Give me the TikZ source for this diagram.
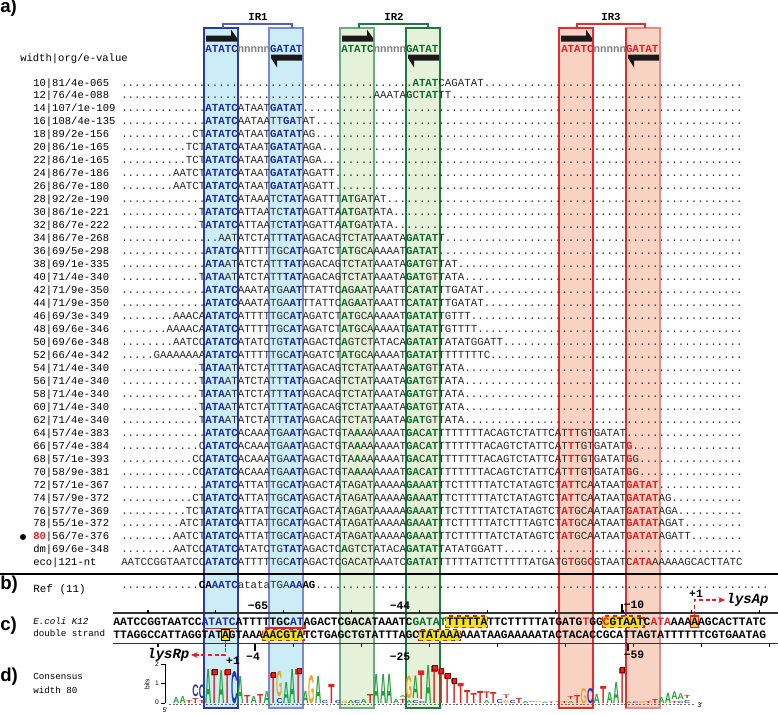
\documentclass[tikz,border=0pt]{standalone}
\usepackage{fontspec}
\setmainfont{Liberation Serif}
\newfontfamily\monof{Liberation Mono}
\newfontfamily\sansf{Liberation Sans}
\usetikzlibrary{arrows.meta}
\ExplSyntaxOn
\cs_new:Npn \Dn #1 {\prg_replicate:nn {#1} {.}}
\ExplSyntaxOff
\definecolor{sqblue}{HTML}{1C2A9E}
\definecolor{sqgreen}{HTML}{0E6B2E}
\definecolor{sqred}{HTML}{EC1C24}
\definecolor{ink}{HTML}{2A2A2A}
\definecolor{fillA}{HTML}{CDEDF6}
\definecolor{fillB}{HTML}{E5F1D9}
\definecolor{fillC}{HTML}{F8D2C2}
\definecolor{edgeAL}{HTML}{2B3AA8}
\definecolor{edgeAR}{HTML}{7F89CB}
\definecolor{edgeBL}{HTML}{6DAB84}
\definecolor{edgeBR}{HTML}{1E7A3E}
\definecolor{edgeCL}{HTML}{E52B2B}
\definecolor{edgeCR}{HTML}{F08787}
\definecolor{hlyellow}{HTML}{F2E21B}
\definecolor{lgreen}{HTML}{25A23A}
\definecolor{lblue}{HTML}{2336B8}
\definecolor{lorange}{HTML}{F2A424}
\definecolor{lred}{HTML}{E3231F}
\newcommand\Bl[1]{{\bfseries\color{sqblue}#1}}
\newcommand\Gr[1]{{\bfseries\color{sqgreen}#1}}
\newcommand\Rd[1]{{\bfseries\color{sqred}#1}}
\newcommand\RowA{\Dn{12}T\Bl{ATA}ATATCTATT\Bl{TAT}AGACAGTCTATAAATA\Gr{GAT}GTTATA\Dn{43}}
\newcommand\RowB{\Dn{13}\Bl{ATATC}AAATATGA\Bl{AT}TTATTC\Gr{A}G\Gr{A}ATAAATTC\Gr{ATAT}TTGATAT\Dn{40}}
\newcommand\RowC{\Dn{8}AATCC\Bl{ATATC}ATATCTG\Bl{TAT}AGACTC\Gr{A}GTCTATACA\Gr{GATAT}TATATGGATT\Dn{37}}
\newlength\pxu \setlength\pxu{0.75pt}
\newcommand\LG[5]{\node[inner sep=0pt,outer sep=0pt,anchor=south west] (lg-#1-#4) at ({121+(#1-1)*6.47+0.3},#4) {\raisebox{0pt}[\height][0pt]{\resizebox{4.7pt}{#5\pxu}{\sansf\bfseries\color{#3}#2}}};}
\tikzset{
 seq/.style={anchor=base west, inner sep=0pt, font=\monof\fontsize{8.09}{9}\selectfont, text=ink},
 lab/.style={anchor=base west, inner sep=0pt, font=\monof\fontsize{7.9}{9}\selectfont, text=black},
 slab/.style={anchor=base west, inner sep=0pt, font=\monof\fontsize{6.9}{8}\selectfont, text=black},
 strand/.style={anchor=base west, inner sep=0pt, font=\monof\bfseries\fontsize{8.5}{9}\selectfont, text=black},
 panel/.style={anchor=west, inner sep=0pt, font=\sansf\bfseries\fontsize{14}{16}\selectfont},
 irlab/.style={inner sep=0pt, font=\monof\bfseries\fontsize{8}{9}\selectfont},
 harp/.style={fill=black!90},
 ruler/.style={line width=1.3pt, black!80},
 poslab/.style={inner sep=0pt, font=\monof\bfseries\fontsize{8.5}{9}\selectfont},
 hlbox/.style={fill=hlyellow, draw=sqred, dashed, line width=0.9pt},
 tss/.style={sqred, densely dashed, line width=1pt, -{Stealth[length=5pt,width=4.5pt]}},
 promlab/.style={inner sep=1pt, font=\monof\bfseries\itshape\fontsize{10.5}{12}\selectfont},
 axlab/.style={inner sep=0pt, font=\sansf\fontsize{5}{5}\selectfont},
}
\begin{document}
\begin{tikzpicture}[x=0.75pt,y=-0.75pt]
\fill[white] (0,0) rectangle (778,714);
\useasboundingbox (0,0) rectangle (778,714);
% IR boxes
\draw[fill=fillA, draw=edgeAL, line width=1.1pt] (204,28) rectangle (238,708);
\draw[fill=fillA, draw=edgeAR, line width=1.1pt] (269,28) rectangle (303,708);
\draw[fill=fillB, draw=edgeBL, line width=1.1pt] (340,28) rectangle (374,708);
\draw[fill=fillB, draw=edgeBR, line width=1.1pt] (406,28) rectangle (440,708);
\draw[fill=fillC, draw=edgeCL, line width=1.1pt] (559,28) rectangle (593,708);
\draw[fill=fillC, draw=edgeCR, line width=1.1pt] (626,28) rectangle (660,708);
\draw[edgeCL, line width=1.1pt] (626,28) -- (626,708);
% brackets
\draw[edgeAL!80, line width=0.9pt] (223,28) -- (223,24) -- (292,24) -- (292,28);
\draw[edgeBR, line width=0.9pt] (359,28) -- (359,24) -- (428,24) -- (428,28);
\draw[edgeCL, line width=0.9pt] (577,28) -- (577,24) -- (645,24) -- (645,28);
\node[irlab] (ir1) at (258,17) {IR1};
\node[irlab] (ir2) at (394,17) {IR2};
\node[irlab] (ir3) at (611,17) {IR3};
% harpoons
\foreach \X/\Y in {204/269, 340/406, 559/626}{
 \fill[harp] ({\X+2},41.5) -- ({\X+33},41.5) -- ({\X+33},38) -- ({\X+27},29.5) -- ({\X+27},35.5) -- ({\X+2},35.5) -- cycle;
 \fill[harp] ({\Y+33},54.5) -- ({\Y+2},54.5) -- ({\Y+2},58) -- ({\Y+8},67.5) -- ({\Y+8},60.5) -- ({\Y+33},60.5) -- cycle;
}
\node[seq, font=\monof\bfseries\fontsize{8.09}{9}\selectfont] (ir1t) at (205.1,52) {\textcolor{sqblue}{ATATC}\textcolor{black!50}{nnnnn}\textcolor{sqblue}{GATAT}};
\node[seq, font=\monof\bfseries\fontsize{8.09}{9}\selectfont] (ir2t) at (341,52) {\textcolor{sqgreen}{ATATC}\textcolor{black!50}{nnnnn}\textcolor{sqgreen}{GATAT}};
\node[seq, font=\monof\bfseries\fontsize{8.09}{9}\selectfont] (ir3t) at (561,52) {\textcolor{sqred}{ATATC}\textcolor{black!50}{nnnnn}\textcolor{sqred}{GATAT}};
% panel labels
\node[panel] (pa) at (0,8) {a)};
\node[panel] (pb) at (0,585) {b)};
\node[panel] (pc) at (0,626) {c)};
\node[panel] (pd) at (0,677) {d)};
\node[lab] (hdr) at (20,61) {width|org/e-value};
% row labels
\node[lab] (l0) at (33,{86+12.97*0}) {10|81/4e-065};
\node[lab] (l1) at (33,{86+12.97*1}) {12|76/4e-088};
\node[lab] (l2) at (33,{86+12.97*2}) {14|107/1e-109};
\node[lab] (l3) at (33,{86+12.97*3}) {16|108/4e-135};
\node[lab] (l4) at (33,{86+12.97*4}) {18|89/2e-156};
\node[lab] (l5) at (33,{86+12.97*5}) {20|86/1e-165};
\node[lab] (l6) at (33,{86+12.97*6}) {22|86/1e-165};
\node[lab] (l7) at (33,{86+12.97*7}) {24|86/7e-186};
\node[lab] (l8) at (33,{86+12.97*8}) {26|86/7e-180};
\node[lab] (l9) at (33,{86+12.97*9}) {28|92/2e-190};
\node[lab] (l10) at (33,{86+12.97*10}) {30|86/1e-221};
\node[lab] (l11) at (33,{86+12.97*11}) {32|86/7e-222};
\node[lab] (l12) at (33,{86+12.97*12}) {34|86/7e-268};
\node[lab] (l13) at (33,{86+12.97*13}) {36|69/5e-298};
\node[lab] (l14) at (33,{86+12.97*14}) {38|69/1e-335};
\node[lab] (l15) at (33,{86+12.97*15}) {40|71/4e-340};
\node[lab] (l16) at (33,{86+12.97*16}) {42|71/9e-350};
\node[lab] (l17) at (33,{86+12.97*17}) {44|71/9e-350};
\node[lab] (l18) at (33,{86+12.97*18}) {46|69/3e-349};
\node[lab] (l19) at (33,{86+12.97*19}) {48|69/6e-346};
\node[lab] (l20) at (33,{86+12.97*20}) {50|69/6e-348};
\node[lab] (l21) at (33,{86+12.97*21}) {52|66/4e-342};
\node[lab] (l22) at (33,{86+12.97*22}) {54|71/4e-340};
\node[lab] (l23) at (33,{86+12.97*23}) {56|71/4e-340};
\node[lab] (l24) at (33,{86+12.97*24}) {58|71/4e-340};
\node[lab] (l25) at (33,{86+12.97*25}) {60|71/4e-340};
\node[lab] (l26) at (33,{86+12.97*26}) {62|71/4e-340};
\node[lab] (l27) at (33,{86+12.97*27}) {64|57/4e-383};
\node[lab] (l28) at (33,{86+12.97*28}) {66|57/4e-384};
\node[lab] (l29) at (33,{86+12.97*29}) {68|57/1e-393};
\node[lab] (l30) at (33,{86+12.97*30}) {70|58/9e-381};
\node[lab] (l31) at (33,{86+12.97*31}) {72|57/1e-367};
\node[lab] (l32) at (33,{86+12.97*32}) {74|57/9e-372};
\node[lab] (l33) at (33,{86+12.97*33}) {76|57/7e-369};
\node[lab] (l34) at (33,{86+12.97*34}) {78|55/1e-372};
\node[lab] (l35) at (33,{86+12.97*35}) {\textcolor{sqred}{\bfseries 80}|56/7e-376};
\node[lab] (l36) at (33,{86+12.97*36}) {dm|69/6e-348};
\node[lab] (l37) at (33,{86+12.97*37}) {eco|121-nt};
\node[circle, fill=black, inner sep=1.6pt] (bul) at (23,{83+12.97*35}) {};
% rows
\node[seq] (s0) at (121,{86+12.97*0}) {\Dn{45}\Gr{ATAT}CAGATAT\Dn{40}};
\node[seq] (s1) at (121,{86+12.97*1}) {\Dn{39}AAATA\Gr{G}C\Gr{TAT}TT\Dn{45}};
\node[seq] (s2) at (121,{86+12.97*2}) {\Dn{13}\Bl{ATATC}ATAAT\Bl{GATAT}\Dn{68}};
\node[seq] (s3) at (121,{86+12.97*3}) {\Dn{13}\Bl{ATATC}AATAATT\Bl{GA}TAT\Dn{66}};
\node[seq] (s4) at (121,{86+12.97*4}) {\Dn{11}CT\Bl{ATATC}ATAAT\Bl{GATAT}AG\Dn{66}};
\node[seq] (s5) at (121,{86+12.97*5}) {\Dn{10}TCT\Bl{ATATC}ATAAT\Bl{GATAT}AGA\Dn{65}};
\node[seq] (s6) at (121,{86+12.97*6}) {\Dn{10}TCT\Bl{ATATC}ATAAT\Bl{GATAT}AGA\Dn{65}};
\node[seq] (s7) at (121,{86+12.97*7}) {\Dn{8}AATCT\Bl{ATATC}ATAAT\Bl{GATAT}AGATT\Dn{63}};
\node[seq] (s8) at (121,{86+12.97*8}) {\Dn{8}AATCT\Bl{ATATC}ATAAT\Bl{GATAT}AGATT\Dn{63}};
\node[seq] (s9) at (121,{86+12.97*9}) {\Dn{13}\Bl{ATATC}ATAAATC\Bl{TAT}AGATTT\Gr{AT}GATAT\Dn{55}};
\node[seq] (s10) at (121,{86+12.97*10}) {\Dn{12}T\Bl{ATATC}ATTAATC\Bl{TAT}AGATTA\Gr{AT}GATATA\Dn{54}};
\node[seq] (s11) at (121,{86+12.97*11}) {\Dn{12}T\Bl{ATATC}ATTAATC\Bl{TAT}AGATTA\Gr{AT}GATATA\Dn{54}};
\node[seq] (s12) at (121,{86+12.97*12}) {\Dn{15}AATATCTATT\Bl{TAT}AGACAGTCTATAAATA\Gr{GATAT}T\Dn{46}};
\node[seq] (s13) at (121,{86+12.97*13}) {\Dn{13}\Bl{ATATC}ATTTTTGC\Bl{AT}AGATCT\Gr{AT}GCAAAAAT\Gr{GATAT}\Dn{47}};
\node[seq] (s14) at (121,{86+12.97*14}) {\Dn{13}\Bl{ATA}ATATCTATT\Bl{TAT}AGACAGTCTATAAATA\Gr{GAT}GTTAT\Dn{44}};
\node[seq] (s15) at (121,{86+12.97*15}) {\RowA};
\node[seq] (s16) at (121,{86+12.97*16}) {\RowB};
\node[seq] (s17) at (121,{86+12.97*17}) {\RowB};
\node[seq] (s18) at (121,{86+12.97*18}) {\Dn{8}AAACA\Bl{ATATC}ATTTTTGC\Bl{AT}AGATCT\Gr{AT}GCAAAAAT\Gr{GATAT}TGTTT\Dn{42}};
\node[seq] (s19) at (121,{86+12.97*19}) {\Dn{7}AAAACA\Bl{ATATC}ATTTTTGC\Bl{AT}AGATCT\Gr{AT}GCAAAAAT\Gr{GATAT}TGTTTT\Dn{41}};
\node[seq] (s20) at (121,{86+12.97*20}) {\RowC};
\node[seq] (s21) at (121,{86+12.97*21}) {\Dn{5}GAAAAAAA\Bl{ATATC}ATTTTTGC\Bl{AT}AGATCT\Gr{AT}GCAAAAAT\Gr{GATAT}TTTTTTTC\Dn{39}};
\node[seq] (s22) at (121,{86+12.97*22}) {\RowA};
\node[seq] (s23) at (121,{86+12.97*23}) {\RowA};
\node[seq] (s24) at (121,{86+12.97*24}) {\RowA};
\node[seq] (s25) at (121,{86+12.97*25}) {\RowA};
\node[seq] (s26) at (121,{86+12.97*26}) {\RowA};
\node[seq] (s27) at (121,{86+12.97*27}) {\Dn{13}\Bl{ATATC}ACAAATGA\Bl{AT}AGACTGTA\Gr{A}AAAAAAT\Gr{GA}C\Gr{AT}TTTTTTTACAGTCTATTCAT\Rd{T}TGTGATAT\Dn{18}};
\node[seq] (s28) at (121,{86+12.97*28}) {\Dn{12}C\Bl{ATATC}ACAAATGA\Bl{AT}AGACTGTA\Gr{A}AAAAAAT\Gr{GA}C\Gr{AT}TTTTTTTACAGTCTATTCAT\Rd{T}TGTGATAT\Rd{G}\Dn{17}};
\node[seq] (s29) at (121,{86+12.97*29}) {\Dn{11}CC\Bl{ATATC}ACAAATGA\Bl{AT}AGACTGTA\Gr{A}AAAAAAT\Gr{GA}C\Gr{AT}TTTTTTTACAGTCTATTCAT\Rd{T}TGTGATAT\Rd{G}G\Dn{16}};
\node[seq] (s30) at (121,{86+12.97*30}) {\Dn{11}CC\Bl{ATATC}ACAAATGA\Bl{AT}AGACTGTA\Gr{A}AAAAAAT\Gr{GA}C\Gr{AT}TTTTTTTACAGTCTATTCAT\Rd{T}TGTGATAT\Rd{G}G\Dn{16}};
\node[seq] (s31) at (121,{86+12.97*31}) {\Dn{13}\Bl{ATATC}ATTATTGC\Bl{AT}AGACTATAGATAAAAA\Gr{GA}A\Gr{AT}TTCTTTTTATCTATAGTCT\Rd{AT}TCAATAAT\Rd{GATAT}\Dn{13}};
\node[seq] (s32) at (121,{86+12.97*32}) {\Dn{11}CT\Bl{ATATC}ATTATTGC\Bl{AT}AGACTATAGATAAAAA\Gr{GA}A\Gr{AT}TTCTTTTTATCTATAGTCT\Rd{AT}TCAATAAT\Rd{GATAT}AG\Dn{11}};
\node[seq] (s33) at (121,{86+12.97*33}) {\Dn{10}TCT\Bl{ATATC}ATTATTGC\Bl{AT}AGACTATAGATAAAAA\Gr{GA}A\Gr{AT}TTCTTTTTATCTATAGTCT\Rd{AT}GCAATAAT\Rd{GATAT}AGA\Dn{10}};
\node[seq] (s34) at (121,{86+12.97*34}) {\Dn{9}ATCT\Bl{ATATC}ATTATTGC\Bl{AT}AGACTATAGATAAAAA\Gr{GA}A\Gr{AT}TTCTTTTTATCTTTAGTCT\Rd{AT}GCAATAAT\Rd{GATAT}AGAT\Dn{9}};
\node[seq] (s35) at (121,{86+12.97*35}) {\Dn{8}AATCT\Bl{ATATC}ATTATTGC\Bl{AT}AGACTATAGATAAAAA\Gr{GA}A\Gr{AT}TTCTTTTTATCTATAGTCT\Rd{AT}GCAATAAT\Rd{GATAT}AGATT\Dn{8}};
\node[seq] (s36) at (121,{86+12.97*36}) {\RowC};
\node[seq] (s37) at (121,{86+12.97*37}) {AATCCGGTAATCC\Bl{ATATC}ATTTTTGC\Bl{AT}AGACTCGACATAAATC\Gr{GATAT}TTTTTATTCTTTTTATGATG\Rd{T}GG\Rd{C}GTAATC\Rd{ATA}AAAAAGCACTTATC};
% separator
\draw[line width=1.5pt] (0,574) -- (778,574);
% b) Ref
\node[lab, font=\monof\fontsize{8.2}{9}\selectfont] (refl) at (33,592) {Ref (11)};
\node[seq] (sref) at (121,588) {\Dn{12}{\bfseries\color{black}CA}\Bl{AATC}atataTGA\Bl{AA}{\bfseries\color{black}AG}\Dn{70}};
% c) double strand
\node[slab, font=\monof\itshape\fontsize{6.9}{8}\selectfont] (ecl) at (33,624.5) {E.coli K12};
\node[slab] (dsl) at (33,636) {double strand};
\draw[ruler] (113,613) -- (778,613);
\draw[ruler] (113,643.5) -- (778,643.5);
\foreach \k in {0,...,9}{
 \draw[line width=0.8pt] ({148+67.9*\k},609.5) -- ({148+67.9*\k},613);
 \draw[line width=0.8pt] ({158+67.9*\k},643.5) -- ({158+67.9*\k},647);
}
\draw[line width=0.8pt] (255,643.5) -- (255,651);
\draw[line width=0.8pt] (628,643.5) -- (628,651);
\draw[line width=0.8pt] (622,604) -- (622,613);
\node[hlbox] (hT1) at (466.6,621.8) [minimum width=41.8*0.75pt, minimum height=11.5*0.75pt, inner sep=0pt] {};
\node[hlbox] (hT2) at (623,621.8) [minimum width=41.8*0.75pt, minimum height=11.5*0.75pt, inner sep=0pt] {};
\node[fill=hlyellow, draw=sqred, line width=0.9pt, inner sep=0pt, minimum width=7.8*0.75pt, minimum height=11.5*0.75pt] (hA2) at (694.4,621.8) {};
\node[hlbox] (hB1) at (283,635.3) [minimum width=41.8*0.75pt, minimum height=11*0.75pt, inner sep=0pt] {};
\node[hlbox] (hB2) at (439.4,635.3) [minimum width=41.8*0.75pt, minimum height=11*0.75pt, inner sep=0pt] {};
\node[fill=hlyellow, draw=black, line width=0.9pt, inner sep=0pt, minimum width=7.8*0.75pt, minimum height=11*0.75pt] (hA1) at (225.2,635.3) {};
\draw[sqred, line width=0.9pt] (203,628.3) -- (238,628.3);
\draw[sqred, line width=0.9pt] (265,628) -- (305,628) -- (305,622);
\node[strand] (topS) at (113,625) {AATCCGGTAATCC\Bl{ATATC}ATTTTTGC\Bl{AT}AGACTCGACATAAATC\Gr{GATAT}TTTTTATTCTTTTTATGATG\Rd{T}GG\Rd{C}GTAATC\Rd{ATA}AAAAAGCACTTATC};
\node[strand] (botS) at (113,638.5) {TTAGGCCATTAGGTATAGTAAAAACGTATCTGAGCTGTATTTAGCTATAAAAAATAAGAAAAATACTACACCGCATTAGTATTTTTTCGTGAATAG};
\node[poslab] (m65) at (258,606) {−65};
\node[poslab] (m44) at (400,606) {−44};
\node[poslab] (m10) at (634,605) {−10};
\node[poslab] (m4) at (253,657) {−4};
\node[poslab] (m25) at (400,657) {−25};
\node[poslab] (m59) at (634,655) {−59};
\node[poslab] (p1a) at (233,661) {+1};
\node[poslab] (p1b) at (696,594) {+1};
\node[promlab, anchor=east] (lysRp) at (191,655) {lysRp};
\node[promlab, anchor=west] (lysAp) at (725,600) {lysAp};
\draw[tss] (hA1.south) |- (lysRp.east);
\draw[tss] (hA2.north) |- (lysAp.west);
% d) consensus logo
\node[slab] (cons) at (33,679.5) {Consensus};
\node[slab] (cw) at (33,693.5) {width 80};
\draw[line width=0.4pt] (165,664) -- (165,703);
\foreach \t in {664,683.5,703}{\draw[line width=0.4pt] (161,\t) -- (165,\t);}
\node[axlab] (a2) at (157,664) {2};
\node[axlab] (a1) at (157,683.5) {1};
\node[axlab] (a0) at (157,702) {0};
\node[axlab, rotate=90] (bits) at (147,684) {bits};
\node[axlab] (five) at (165,710) {5'};
\node[axlab] (three) at (700,705) {3'};
\draw[black!60, dash pattern=on 1.4pt off 1.4pt, line width=0.5pt] (169,704) -- (695,704);
\LG{9}{A}{lgreen}{703}{6}
\LG{10}{A}{lgreen}{703}{7}
\LG{11}{T}{lred}{703}{3}
\LG{12}{T}{lred}{703}{5}\LG{12}{C}{lblue}{696.6}{11.6}
\LG{13}{T}{lred}{703}{3}\LG{13}{C}{lblue}{698.6}{13.6}
\LG{14}{A}{lgreen}{703}{34}
\LG{15}{T}{lred}{703}{33}
\LG{16}{A}{lgreen}{703}{33}
\LG{17}{T}{lred}{703}{33}
\LG{18}{C}{lblue}{703}{32}
\LG{19}{A}{lgreen}{703}{27}
\LG{20}{T}{lred}{703}{8}
\LG{21}{A}{lgreen}{703}{7}
\LG{22}{T}{lred}{703}{9}
\LG{23}{A}{lgreen}{703}{12}
\LG{24}{T}{lred}{703}{30}
\LG{25}{C}{lblue}{703}{5}\LG{25}{G}{lorange}{696.4}{25.4}
\LG{26}{A}{lgreen}{703}{21}
\LG{27}{A}{lgreen}{703}{34}
\LG{28}{T}{lred}{703}{34}
\LG{29}{A}{lgreen}{703}{12}
\LG{30}{G}{lorange}{703}{28}
\LG{31}{A}{lgreen}{703}{27}
\LG{32}{C}{lblue}{703}{3}
\LG{33}{T}{lred}{703}{19}
\LG{34}{C}{lblue}{703}{3}
\LG{35}{G}{lorange}{703}{2}
\LG{36}{A}{lgreen}{703}{3}
\LG{37}{C}{lblue}{703}{3}
\LG{38}{A}{lgreen}{703}{4}
\LG{39}{T}{lred}{703}{9}
\LG{40}{A}{lgreen}{703}{29}
\LG{41}{A}{lgreen}{703}{29}
\LG{42}{A}{lgreen}{703}{29}
\LG{43}{A}{lgreen}{703}{4}
\LG{44}{T}{lred}{703}{4}\LG{44}{A}{lgreen}{697.8}{2}
\LG{45}{A}{lgreen}{703}{3}\LG{45}{G}{lorange}{698.4}{22.4}
\LG{46}{C}{lblue}{703}{3}\LG{46}{A}{lgreen}{698.4}{22.4}
\LG{47}{C}{lblue}{703}{2}\LG{47}{T}{lred}{699.6}{28.6}
\LG{48}{A}{lgreen}{703}{38}
\LG{49}{T}{lred}{703}{37}
\LG{50}{T}{lred}{703}{34}
\LG{51}{T}{lred}{703}{29}
\LG{52}{T}{lred}{703}{24}
\LG{53}{T}{lred}{703}{20}
\LG{54}{T}{lred}{703}{13}
\LG{55}{T}{lred}{703}{10}
\LG{56}{T}{lred}{703}{12}
\LG{57}{A}{lgreen}{703}{3}\LG{57}{T}{lred}{698.6}{6.6}
\LG{58}{T}{lred}{703}{11}
\LG{59}{C}{lblue}{703}{4}
\LG{60}{G}{lorange}{703}{3}\LG{60}{T}{lred}{698.6}{3.6}
\LG{61}{C}{lblue}{703}{3}
\LG{62}{T}{lred}{703}{5}
\LG{63}{A}{lgreen}{703}{2}
\LG{64}{C}{lblue}{703}{1}
\LG{65}{G}{lorange}{703}{1}
\LG{66}{A}{lgreen}{703}{1.5}
\LG{67}{T}{lred}{703}{1.5}
\LG{68}{A}{lgreen}{703}{1}
\LG{69}{T}{lred}{703}{2}
\LG{70}{A}{lgreen}{703}{2}\LG{70}{T}{lred}{699.8}{3}
\LG{71}{T}{lred}{703}{8}
\LG{72}{G}{lorange}{703}{15}
\LG{73}{C}{lblue}{703}{15}
\LG{74}{A}{lgreen}{703}{9}
\LG{75}{T}{lred}{703}{17}
\LG{76}{A}{lgreen}{703}{11}
\LG{77}{A}{lgreen}{703}{21}
\LG{78}{T}{lred}{703}{35}
\LG{79}{A}{lgreen}{703}{1.5}
\LG{80}{C}{lblue}{703}{1.5}
\LG{81}{G}{lorange}{703}{2}
\LG{82}{T}{lred}{703}{2}
\LG{83}{T}{lred}{703}{4}
\LG{84}{A}{lgreen}{703}{6}
\LG{85}{A}{lgreen}{703}{10}
\LG{86}{T}{lred}{703}{2}\LG{86}{A}{lgreen}{699.8}{7.8}
\LG{87}{C}{lblue}{703}{2}\LG{87}{A}{lgreen}{699.6}{5.8}
\LG{88}{C}{lblue}{703}{3}\LG{88}{T}{lred}{698.6}{3}
\foreach \p/\t in {15/670, 17/670, 24/673, 28/669, 49/666, 50/669, 51/674, 52/679, 78/668}{
 \draw[fill=lred, draw=red!50!black, line width=0.3pt] ({121+(\p-0.5)*6.47-2.2},{\t-0.5}) rectangle ({121+(\p-0.5)*6.47+2.2},{\t+4});
}
\end{tikzpicture}
\end{document}
